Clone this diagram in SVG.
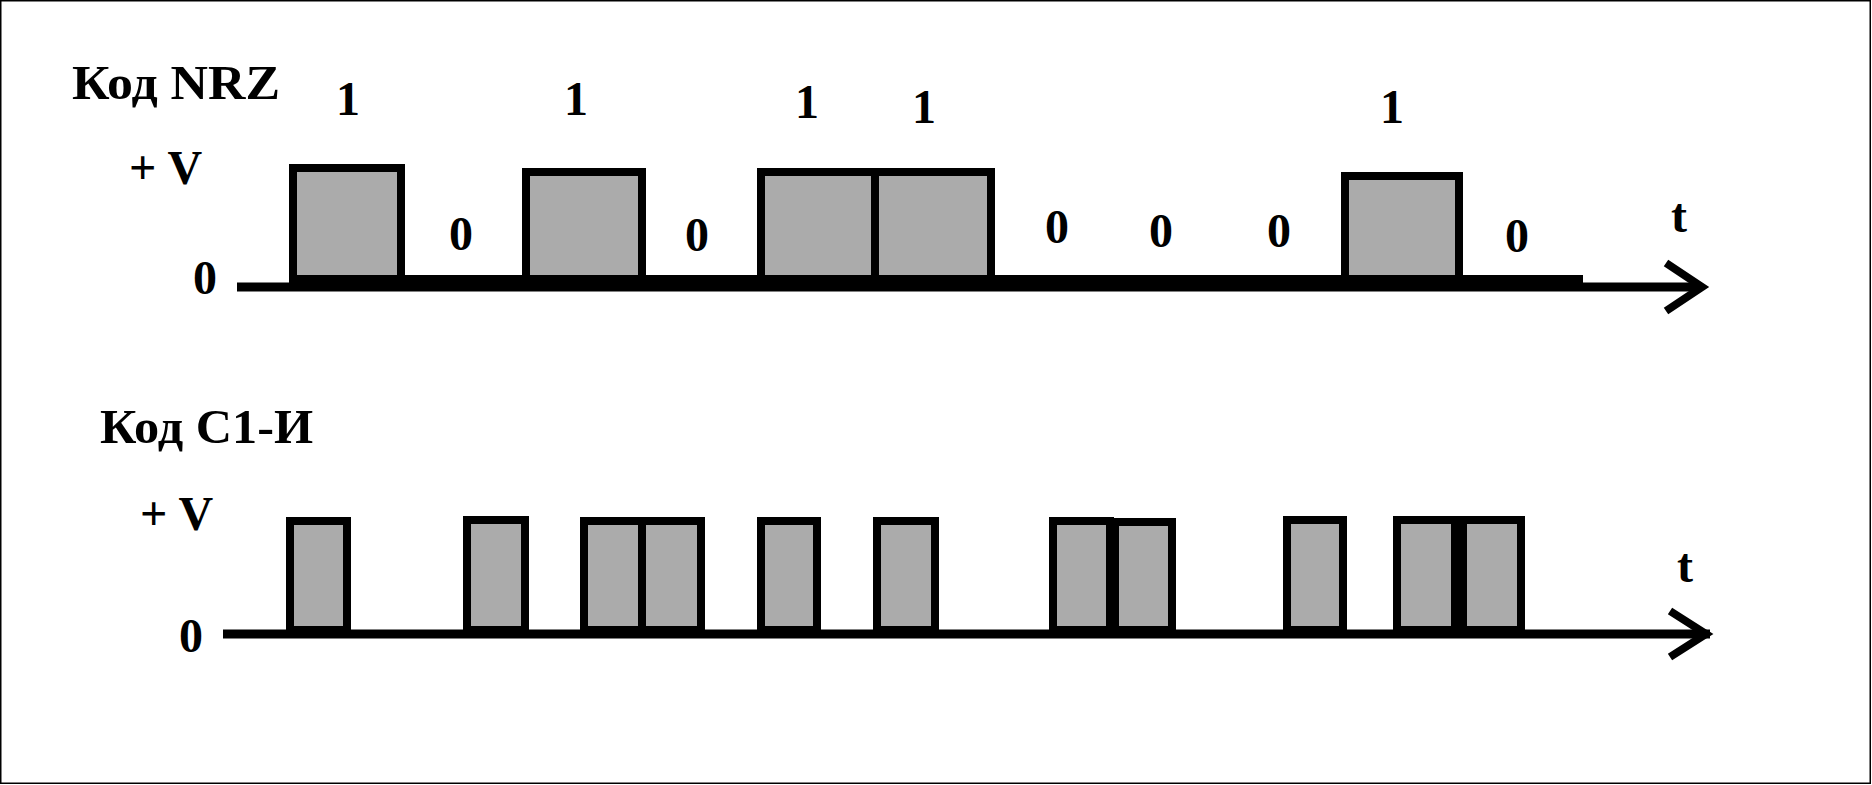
<svg xmlns="http://www.w3.org/2000/svg" width="1872" height="785" viewBox="0 0 1872 785">
  <style>
    .t { font-family: "Liberation Serif", "Times New Roman", serif; font-weight: bold; font-size: 48px; fill: #000; }
    .m { text-anchor: middle; }
    .p { fill: #ABABAB; stroke: #000; stroke-width: 8; stroke-linejoin: miter; }
    .ax { stroke: #000; stroke-width: 9; fill: none; }
    .sig { stroke: #000; stroke-width: 8; fill: none; }
    .arr { stroke: #000; stroke-width: 8; fill: none; stroke-linejoin: miter; stroke-miterlimit: 10; }
  </style>
  <rect x="0.75" y="0.75" width="1869.5" height="782.5" fill="#fff" stroke="#000" stroke-width="1.5"/>

  <g id="connectors">
    <line class="sig" x1="289" y1="279" x2="1583" y2="279"/>
    <line class="ax" x1="237" y1="287" x2="1702" y2="287"/>
    <polyline class="arr" points="1666,263 1702,287 1666,311"/>
    <line class="ax" x1="223" y1="634" x2="1710" y2="634"/>
    <polyline class="arr" points="1670,611 1706,634 1670,657"/>
  </g>

  <g id="nrz">
    <text class="t" x="72" y="99" textLength="208" lengthAdjust="spacingAndGlyphs">Код NRZ</text>
    <text class="t" x="129" y="184">+ V</text>
    <text class="t m" x="205" y="294">0</text>
    <text class="t m" x="1679" y="232">t</text>
    <g id="nrz-pulses">
      <rect class="p" x="293" y="168" width="108" height="111"/>
      <rect class="p" x="526" y="172" width="116" height="107"/>
      <rect class="p" x="761" y="172" width="114" height="107"/>
      <rect class="p" x="875" y="172" width="116" height="107"/>
      <rect class="p" x="1345" y="176" width="114" height="103"/>
    </g>
    <g id="nrz-bits">
      <text class="t m" x="348" y="115">1</text>
      <text class="t m" x="461" y="250">0</text>
      <text class="t m" x="576" y="115">1</text>
      <text class="t m" x="697" y="251">0</text>
      <text class="t m" x="807" y="118">1</text>
      <text class="t m" x="924" y="123">1</text>
      <text class="t m" x="1057" y="243">0</text>
      <text class="t m" x="1161" y="247">0</text>
      <text class="t m" x="1279" y="247">0</text>
      <text class="t m" x="1392" y="123">1</text>
      <text class="t m" x="1517" y="252">0</text>
    </g>
  </g>

  <g id="c1">
    <text class="t" x="100" y="443" textLength="213" lengthAdjust="spacingAndGlyphs">Код С1-И</text>
    <text class="t" x="140" y="530">+ V</text>
    <text class="t m" x="191" y="652">0</text>
    <text class="t m" x="1685" y="582">t</text>
    <g id="c1-pulses">
      <rect class="p" x="290" y="521" width="57" height="109"/>
      <rect class="p" x="467" y="520" width="58" height="110"/>
      <rect class="p" x="584" y="521" width="58" height="109"/>
      <rect class="p" x="642" y="521" width="59" height="109"/>
      <rect class="p" x="761" y="521" width="56" height="109"/>
      <rect class="p" x="877" y="521" width="58" height="109"/>
      <rect class="p" x="1053" y="521" width="57" height="109"/>
      <rect class="p" x="1115" y="522" width="57" height="108"/>
      <rect class="p" x="1287" y="520" width="56" height="110"/>
      <rect class="p" x="1397" y="520" width="58" height="110"/>
      <rect class="p" x="1463" y="520" width="58" height="110"/>
    </g>
  </g>
</svg>
